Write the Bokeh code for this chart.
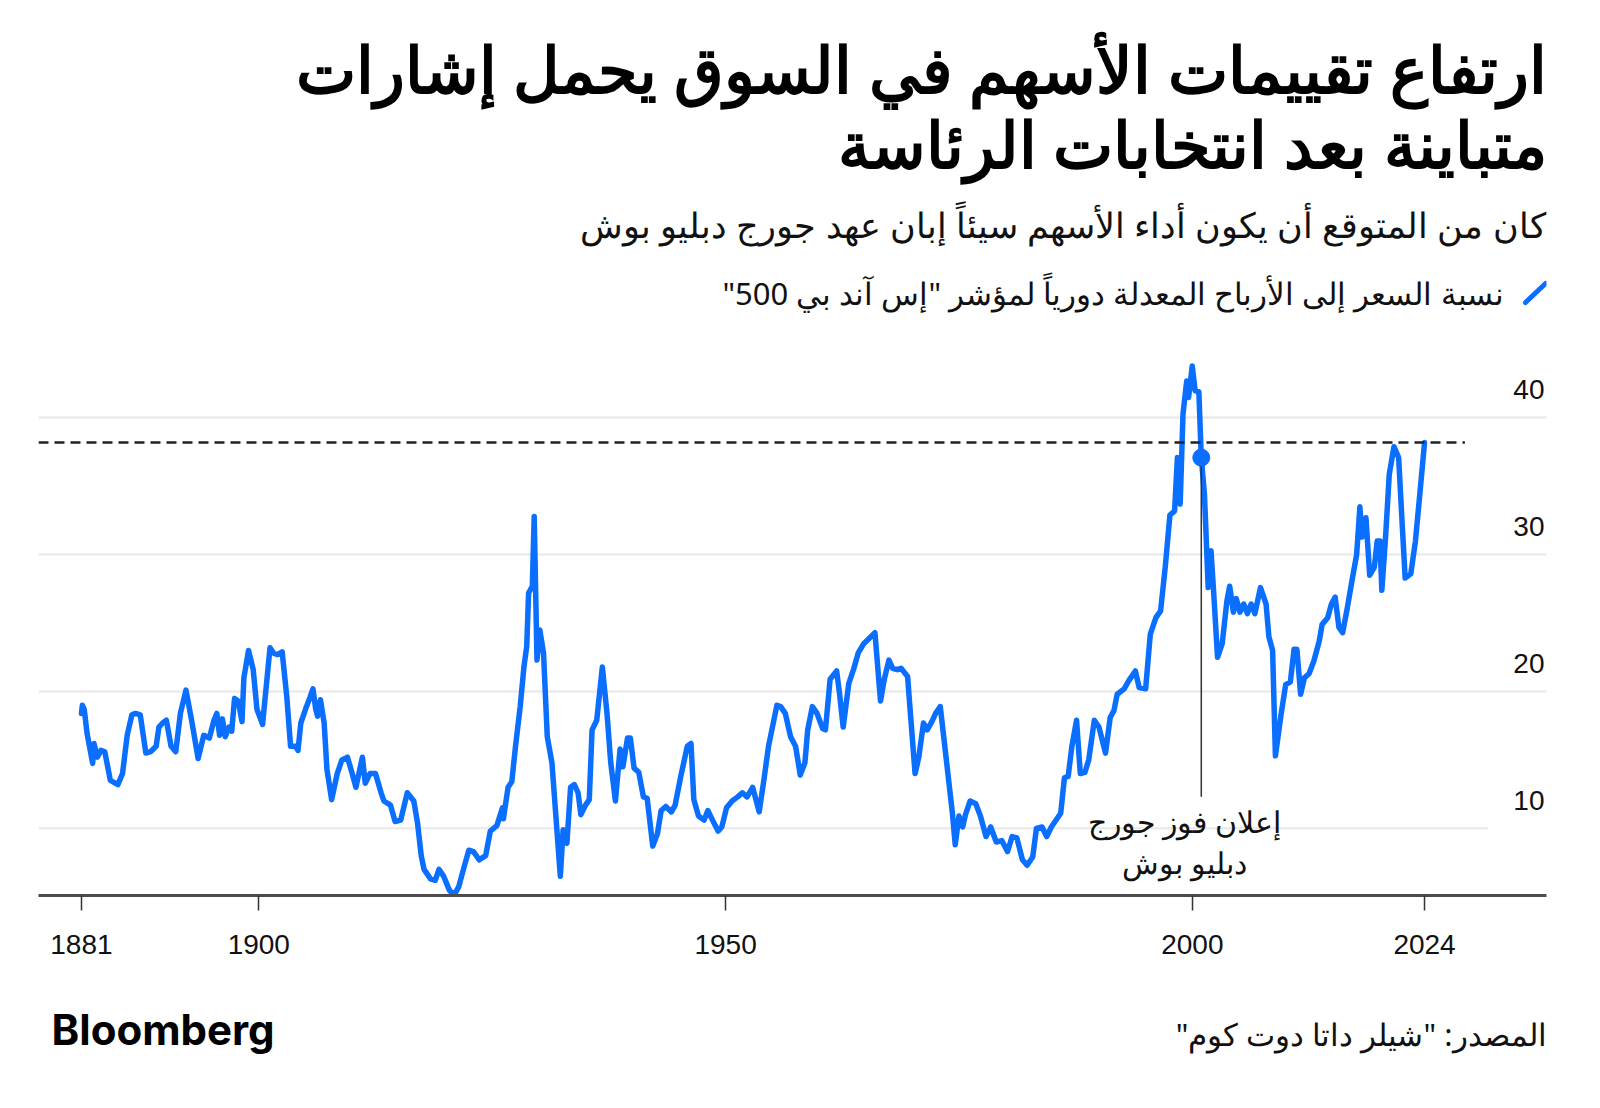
from bokeh.plotting import figure
from bokeh.layouts import column
from bokeh.models import FixedTicker, Label, Arrow
from bokeh.embed import file_html
from bokeh.resources import INLINE
from bokeh.core.properties import value

# ---------------- data ----------------
years = [
    1881.0, 1881.1, 1881.3, 1881.6, 1882.2, 1882.35, 1882.7, 1883.1, 1883.5, 1884.1,
    1884.9, 1885.4, 1885.9, 1886.4, 1886.8, 1887.3, 1887.9, 1888.4, 1889.0, 1889.3,
    1889.7, 1890.1, 1890.6, 1891.1, 1891.6, 1892.2, 1892.8, 1893.5, 1894.1, 1894.7,
    1895.2, 1895.5, 1895.8, 1896.1, 1896.4, 1896.8, 1897.1, 1897.4, 1897.8, 1898.2,
    1898.4, 1898.9, 1899.4, 1899.8, 1900.4, 1900.8, 1901.2, 1901.6, 1902.0, 1902.5,
    1903.0, 1903.4, 1903.9, 1904.2, 1904.5, 1905.0, 1905.5, 1905.8, 1906.1, 1906.3,
    1906.6, 1907.0, 1907.3, 1907.8, 1908.4, 1908.9, 1909.5, 1910.0, 1910.4, 1911.1,
    1911.4, 1911.9, 1912.5, 1913.1, 1913.4, 1914.1, 1914.6, 1915.2, 1915.9, 1916.6,
    1917.0, 1917.4,
    1917.7, 1918.4, 1918.9, 1919.3, 1919.8, 1920.4, 1920.9, 1921.4, 1922.0, 1922.5,
    1923.0, 1923.6, 1924.3, 1924.8, 1925.5, 1926.1, 1926.2, 1926.7, 1927.1, 1927.5,
    1928.0, 1928.4, 1928.7, 1928.9, 1929.3, 1929.5, 1929.8, 1930.1, 1930.5, 1930.9,
    1931.4, 1931.8, 1932.3, 1932.6, 1933.0, 1933.4, 1933.8, 1934.2, 1934.5, 1935.0,
    1935.4, 1935.7, 1936.2, 1936.8, 1937.3, 1937.7, 1938.2, 1938.7, 1939.0, 1939.5,
    1939.8, 1940.2, 1940.7, 1941.2, 1941.6, 1942.2, 1942.7, 1943.1, 1943.6, 1944.2,
    1944.6, 1945.2, 1945.9, 1946.3, 1946.6, 1947.1, 1947.7, 1948.1, 1948.6, 1949.2,
    1949.6, 1950.1, 1950.7, 1951.3, 1951.8, 1952.3, 1952.9, 1953.6, 1954.1, 1954.6,
    1955.5,
    1955.9, 1956.4, 1956.96, 1957.5, 1958.0, 1958.5, 1958.8, 1959.3, 1959.8, 1960.4,
    1960.7, 1961.2, 1961.9, 1962.2, 1962.6, 1963.2, 1963.7, 1964.2, 1964.8, 1965.4,
    1966.0, 1966.6, 1967.0, 1967.5, 1967.9, 1968.4, 1968.8, 1969.5, 1969.8, 1970.3,
    1970.7, 1971.2, 1971.6, 1972.1, 1972.5, 1973.0, 1973.4, 1973.9, 1974.3, 1974.6,
    1975.0, 1975.4, 1975.7, 1976.2, 1976.8, 1977.3, 1977.9, 1978.4, 1979.0, 1979.6,
    1980.2, 1980.7, 1981.2, 1981.8, 1982.3, 1982.9, 1983.3, 1983.9, 1984.4, 1984.9,
    1985.5, 1985.9, 1986.3, 1986.7, 1987.1, 1987.6, 1988.0, 1988.5, 1988.9, 1989.5,
    1990.0,
    1990.7, 1991.2, 1991.6, 1991.95, 1992.7, 1993.2, 1993.9, 1994.3, 1995.0, 1995.5,
    1996.1, 1996.6, 1997.1, 1997.6, 1998.1, 1998.4, 1998.7, 1999.0, 1999.4, 1999.6,
    1999.99, 2000.3, 2000.7, 2000.96, 2001.3, 2001.7, 2002.0, 2002.3, 2002.7, 2003.2,
    2003.7, 2004.0, 2004.4, 2004.7, 2005.1, 2005.5, 2005.9, 2006.3, 2006.7, 2007.3,
    2007.9, 2008.2, 2008.6, 2008.9, 2009.5, 2010.0, 2010.5, 2010.9, 2011.2, 2011.6,
    2012.0, 2012.5, 2013.0, 2013.6, 2013.9, 2014.5, 2014.9, 2015.3, 2015.7, 2016.1,
    2016.6, 2017.1, 2017.6, 2017.95, 2018.2, 2018.6, 2019.0, 2019.5, 2019.8, 2020.1,
    2020.3, 2020.7, 2021.1, 2021.6, 2022.1, 2022.5, 2022.8, 2023.4, 2023.9, 2024.5,
    2024.875,
]
cape = [
    18.4, 19.0, 18.7, 16.95, 14.75, 16.2, 15.2, 15.7, 15.6, 13.5,
    13.2, 14.0, 16.8, 18.3, 18.4, 18.3, 15.5, 15.6, 16.0, 17.4,
    17.7, 17.9, 16.0, 15.6, 18.4, 20.1, 17.9, 15.1, 16.8, 16.6,
    17.9, 18.4, 16.8, 18.0, 16.7, 17.4, 17.1, 19.5, 19.3, 17.8,
    21.0, 23.0, 21.6, 18.7, 17.6, 20.4, 23.2, 22.8, 22.7, 22.9,
    19.6, 16.0, 16.0, 15.7, 17.7, 18.7, 19.6, 20.2, 18.7, 18.2,
    19.4, 17.7, 14.3, 12.1, 14.0, 15.0, 15.2, 14.0, 13.0, 15.2,
    13.3, 14.0, 14.0, 12.6, 12.0, 11.7, 10.5, 10.6, 12.6, 12.0,
    10.4, 8.0,
    7.0, 6.3, 6.2, 7.0, 6.5, 5.5, 5.1, 5.7, 7.2, 8.4,
    8.3, 7.7, 8.0, 9.8, 10.2, 11.5, 10.7, 13.0, 13.4, 16.0,
    18.9, 21.8, 23.3, 27.2, 27.7, 32.8, 22.3, 24.5, 22.8, 16.7,
    14.8, 11.1, 6.5, 9.9, 8.9, 13.0, 13.2, 12.6, 11.0, 11.7,
    12.1, 17.2, 17.9, 21.8, 18.4, 14.8, 12.0, 15.8, 14.5, 16.6,
    16.6, 14.4, 14.1, 12.3, 12.2, 8.7, 9.6, 11.3, 11.6, 11.2,
    11.7, 13.8, 16.0, 16.2, 12.1, 10.9, 10.6, 11.3, 10.6, 9.8,
    10.1, 11.5, 12.0, 12.3, 12.6, 12.3, 13.0, 11.2, 13.5, 16.0,
    19.0,
    18.9, 18.4, 16.7, 16.0, 13.9, 14.8, 17.2, 18.9, 18.4, 17.3,
    17.2, 20.9, 21.5, 19.9, 17.4, 20.6, 21.6, 22.8, 23.5, 23.9,
    24.3, 19.3, 20.9, 22.3, 21.7, 21.6, 21.7, 21.1, 18.4, 14.0,
    15.2, 17.7, 17.2, 17.8, 18.4, 18.9, 16.5, 13.5, 11.1, 8.8,
    10.9, 10.1, 11.0, 12.0, 11.8, 10.9, 9.4, 10.1, 9.0, 9.1,
    8.3, 9.4, 9.3, 7.7, 7.3, 7.9, 10.0, 10.1, 9.4, 10.1,
    10.7, 11.1, 13.7, 13.8, 16.0, 17.9, 14.0, 14.1, 15.0, 17.9,
    17.4,
    15.5, 18.1, 18.6, 19.8, 20.2, 20.8, 21.5, 20.3, 20.2, 24.2,
    25.4, 25.9, 29.1, 32.9, 33.2, 37.1, 33.7, 40.3, 42.7, 41.5,
    43.8, 42.0, 41.9, 37.1, 34.4, 27.6, 30.3, 27.1, 22.5, 23.5,
    26.6, 27.7, 25.8, 26.8, 25.8, 26.4, 25.7, 26.4, 25.7, 27.6,
    26.4, 24.0, 23.0, 15.3, 18.3, 20.5, 20.7, 23.1, 23.1, 19.8,
    21.0, 21.3, 22.2, 23.7, 24.9, 25.4, 26.4, 26.9, 24.7, 24.3,
    26.1, 28.1, 30.0, 33.5, 31.3, 32.7, 28.5, 29.1, 31.0, 31.0,
    27.4, 31.3, 35.9, 37.9, 37.1, 32.0, 28.3, 28.6, 31.0, 35.4,
    38.2,
]

x_ticks = [1881, 1900, 1950, 2000, 2024.875]
x_tick_labels = ["1881", "1900", "1950", "2000", "2024"]
y_ticks = [10, 20, 30, 40]
y_tick_labels = ["10", "20", "30", "40"]

bush_year = 2000.96
bush_cape = 37.1

title_line1 = "ارتفاع تقييمات الأسهم في السوق يحمل إشارات"
title_line2 = "متباينة بعد انتخابات الرئاسة"
subtitle = "كان من المتوقع أن يكون أداء الأسهم سيئاً إبان عهد جورج دبليو بوش"
legend_text = "\u200fنسبة السعر إلى الأرباح المعدلة دورياً لمؤشر \"إس آند بي 500\"\u200f"
note_line1 = "إعلان فوز جورج"
note_line2 = "دبليو بوش"
source_text = "\u200fالمصدر: \"شيلر داتا دوت كوم\"\u200f"
brand = "Bloomberg"

# ---------------- style ----------------
BLUE = "#0a6eff"
GRID = "#ebebeb"
AR_FONT = "Noto Sans"
NUM_FONT = "Liberation Sans"
W = 1584
HEAD_H, MAIN_H, FOOT_H = 334, 641, 117
PAD_L, PAD_R = 38, 38

X0, X1 = 1876.4, 2037.94
Y0, Y1 = 5.09, 46.1


def blank(h):
    # frame aligned with the chart frame: x in page pixels from PAD_L to W - PAD_R
    f = figure(width=W, height=h, x_range=(PAD_L, W - PAD_R), y_range=(0, h),
               x_axis_type=None, y_axis_type=None, output_backend="svg",
               toolbar_location=None, min_border_left=PAD_L,
               min_border_right=PAD_R, min_border_top=0, min_border_bottom=0)
    f.outline_line_color = None
    f.xgrid.grid_line_color = None
    f.ygrid.grid_line_color = None
    return f


def add_text(f, h, x, ytop, text, size, align="right", bold=False,
             color="#000000", font=AR_FONT):
    f.add_layout(Label(x=x, y=h - ytop, text=text, text_align=align,
                       text_baseline="middle", text_font=font,
                       text_font_size=size,
                       text_font_style="bold" if bold else "normal",
                       text_color=color))


# ---------- header ----------
head = blank(HEAD_H)
add_text(head, HEAD_H, 1546, 68, title_line1, "64px", bold=True)
add_text(head, HEAD_H, 1546, 143, title_line2, "64px", bold=True)
add_text(head, HEAD_H, 1546, 224, subtitle, "35px", color="#111111")
add_text(head, HEAD_H, 1503, 292, legend_text, "31px", color="#111111")
head.add_layout(Arrow(x_start=1525, y_start=HEAD_H - 302, x_end=1545,
                      y_end=HEAD_H - 283, end=None, line_color=BLUE,
                      line_width=5, line_cap="round"))

# ---------- main chart ----------
p = figure(width=W, height=MAIN_H, x_range=(X0, X1), y_range=(Y0, Y1),
           output_backend="svg", toolbar_location=None,
           min_border_left=PAD_L, min_border_right=PAD_R,
           min_border_top=0, min_border_bottom=80)
p.outline_line_color = None

p.xgrid.grid_line_color = None
p.yaxis.visible = False
# upper gridlines span the full width; the lowest one stops short of its label
p.ygrid.ticker = FixedTicker(ticks=y_ticks[1:])
p.ygrid.grid_line_color = GRID
p.ygrid.grid_line_width = 2.5
p.segment(x0=[X0], y0=[y_ticks[0]], x1=[2031.7], y1=[y_ticks[0]],
          line_color=GRID, line_width=2.5)

xa = p.xaxis[0]
xa.ticker = FixedTicker(ticks=x_ticks)
xa.major_label_overrides = dict(zip(x_ticks, x_tick_labels))
xa.axis_line_color = "#4d4d4d"
xa.axis_line_width = 3
xa.major_tick_line_color = "#333333"
xa.major_tick_line_width = 1.5
xa.major_tick_out = 15
xa.major_tick_in = 0
xa.minor_tick_line_color = None
xa.major_label_text_font = NUM_FONT
xa.major_label_text_font_size = "28px"
xa.major_label_text_color = "#111111"
xa.major_label_standoff = 24

p.text(x=[X1] * len(y_ticks), y=y_ticks, text=y_tick_labels,
       text_align="right", text_baseline="middle", x_offset=-2, y_offset=-28,
       text_font=value(NUM_FONT), text_font_size="28px", text_color="#111111")

p.line(years, cape, line_color=BLUE, line_width=5.5, line_join="round",
       line_cap="round")

p.segment(x0=[X0], y0=[cape[-1]], x1=[2029.2], y1=[cape[-1]],
          line_color="#222222", line_width=2.5, line_dash="10 6")

p.segment(x0=[bush_year], y0=[bush_cape], x1=[bush_year], y1=[12.3],
          line_color="#333333", line_width=1.5)
p.scatter(x=[bush_year], y=[bush_cape], size=17, fill_color=BLUE,
          line_color=BLUE)
p.add_layout(Label(x=bush_year - 1.8, y=10.5, text=note_line1,
                   text_align="center", text_baseline="middle",
                   text_font=AR_FONT, text_font_size="30px",
                   text_color="#111111"))
p.add_layout(Label(x=bush_year - 1.8, y=7.5, text=note_line2,
                   text_align="center", text_baseline="middle",
                   text_font=AR_FONT, text_font_size="30px",
                   text_color="#111111"))

# ---------- footer ----------
foot = blank(FOOT_H)
add_text(foot, FOOT_H, 1546, 1033 - 975, source_text, "31px", color="#111111")
add_text(foot, FOOT_H, 51, 1029 - 975, brand, "42px", align="left",
         bold=True, font="Inter")

layout = column(head, p, foot, spacing=0)
open("out.html", "w").write(file_html(layout, INLINE))
